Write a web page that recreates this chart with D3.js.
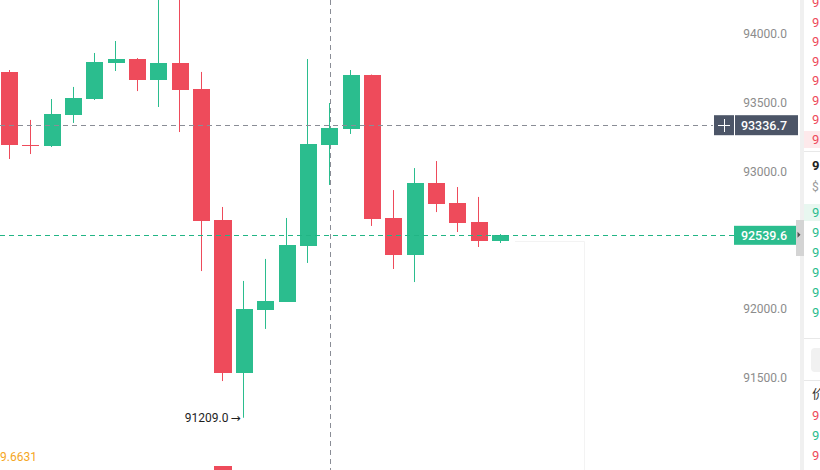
<!DOCTYPE html>
<html>
<head>
<meta charset="utf-8">
<script src="https://cdn.jsdelivr.net/npm/d3@7"></script>
<style>
  html, body { margin: 0; padding: 0; background: #ffffff; overflow: hidden; }
  svg { display: block; font-family: Roboto, "Noto Sans", Arial, sans-serif; }
</style>
</head>
<body>
<svg id="chart" width="820" height="470"></svg>
<script>
// ---- data ----
const times = ["00:00","01:00","02:00","03:00","04:00","05:00","06:00","07:00","08:00","09:00","10:00","11:00",
               "12:00","13:00","14:00","15:00","16:00","17:00","18:00","19:00","20:00","21:00","22:00","23:00"];
const opens  = [93724, 93196, 93185, 93411, 93527, 93789, 93818, 93665, 93789, 93600, 92647, 91535,
                91993, 92051, 92458, 93193, 93309, 93702, 92662, 92393, 92916, 92771, 92633, 92495];
const highs  = [93738, 93375, 93527, 93615, 93862, 93949, 93825, 94380, 94300, 93724, 92742, 92204,
                92364, 92662, 93818, 93498, 93738, 93705, 92865, 93025, 93076, 92887, 92815, 92545];
const lows   = [93091, 93127, 93178, 93353, 93520, 93731, 93585, 93469, 93287, 92276, 91476, 91209,
                91855, 92051, 92335, 92902, 93273, 92604, 92291, 92196, 92705, 92560, 92451, 92480];
const closes = [93193, 93188, 93418, 93535, 93796, 93818, 93665, 93789, 93593, 92640, 91535, 92000,
                92058, 92465, 93200, 93316, 93702, 92655, 92393, 92916, 92764, 92625, 92495, 92539.6];
const volumes = [620, 310, 420, 380, 560, 300, 410, 880, 760, 900, 1850, 840,
                 350, 520, 870, 480, 560, 820, 540, 610, 420, 360, 390, 120];
const priceTicks = [91500, 92000, 93000, 93500, 94000];
const crossPrice = 93336.7;
const lastPrice = 92539.6;
const lowLabel = "91209.0";
const indicatorValue = "9.6631";
const bookAsks = ["9","9","9","9","9","9","9","9"];
const bookBids = ["9","9","9","9","9","9"];
const bookTrades = [["9","ask"],["9","bid"],["9","ask"]];

// ---- styles ----
const GREEN = "#2bbd8e", RED = "#ee4b5b";

const svg = d3.select("#chart");

const x = d3.scaleBand().domain(times).range([-1.175, 511.225]).paddingInner(0.2).paddingOuter(0.1);
const y = d3.scaleLinear().domain([91500, 94000]).range([377.75, 34]);
const yv = d3.scaleLinear().domain([0, 2000]).range([520, 462]);

const data = times.map((t, i) => ({t, o: opens[i], h: highs[i], l: lows[i], c: closes[i], v: volumes[i]}));
const col = d => d.c >= d.o ? GREEN : RED;
const cx = d => Math.round(x(d.t) + x.bandwidth() / 2) - 0.5;

// faint future-area outline
svg.append("path")
  .attr("d", `M515,${Math.round(y(lastPrice)) + 6.5} H584.5 V470`)
  .attr("fill", "none").attr("stroke", "#f3f3f3").attr("stroke-width", 1);

// volume bars (lower pane)
svg.append("g").selectAll("rect").data(data).join("rect")
  .attr("x", d => x(d.t)).attr("width", x.bandwidth())
  .attr("y", d => yv(d.v)).attr("height", d => yv(0) - yv(d.v))
  .attr("fill", col).attr("shape-rendering", "crispEdges");

// indicator value
svg.append("text").attr("x", 0).attr("y", 461).attr("font-size", 12)
  .attr("fill", "#f5a623").text(indicatorValue);

// crosshair vertical (at candle 16)
svg.append("line")
  .attr("x1", cx(data[15]) + 1).attr("x2", cx(data[15]) + 1)
  .attr("y1", 0).attr("y2", 470)
  .attr("stroke", "#8a8d96").attr("stroke-width", 1).attr("stroke-dasharray", "5,4");

// candles
const g = svg.append("g");
g.selectAll("line.wick").data(data).join("line")
  .attr("class", "wick")
  .attr("x1", cx).attr("x2", cx)
  .attr("y1", d => y(d.h)).attr("y2", d => y(d.l))
  .attr("stroke", col).attr("stroke-width", 1);
g.selectAll("rect.body").data(data).join("rect")
  .attr("class", "body")
  .attr("x", d => x(d.t)).attr("width", x.bandwidth())
  .attr("y", d => y(Math.max(d.o, d.c)))
  .attr("height", d => Math.max(1.5, Math.abs(y(d.o) - y(d.c))))
  .attr("fill", col).attr("shape-rendering", "crispEdges");

// crosshair horizontal
svg.append("line")
  .attr("x1", 0).attr("x2", 713).attr("y1", Math.round(y(crossPrice)) + 0.5).attr("y2", Math.round(y(crossPrice)) + 0.5)
  .attr("stroke", "#8a8d96").attr("stroke-width", 1).attr("stroke-dasharray", "5,4");

// last price line
svg.append("line")
  .attr("x1", 0).attr("x2", 734).attr("y1", Math.round(y(lastPrice)) + 0.5).attr("y2", Math.round(y(lastPrice)) + 0.5)
  .attr("stroke", "#22b585").attr("stroke-width", 1).attr("stroke-dasharray", "5,4");

// price axis
const axis = d3.axisRight(y).tickValues(priceTicks).tickSize(0).tickPadding(0)
  .tickFormat(d => d3.format(".1f")(d));
const ag = svg.append("g").attr("transform", "translate(787,0)").call(axis);
ag.select(".domain").remove();
ag.selectAll("text").attr("text-anchor", "end").attr("fill", "#8c8c8c")
  .attr("font-size", 12).attr("font-family", "Roboto, Arial, sans-serif");

// min label
const lowIdx = d3.minIndex(lows);
svg.append("text").attr("x", cx(data[lowIdx]) - 15).attr("y", y(lows[lowIdx]) + 4)
  .attr("text-anchor", "end").attr("font-size", 12).attr("fill", "#1e1e1e").text(lowLabel);
svg.append("text").attr("x", cx(data[lowIdx]) - 3).attr("y", y(lows[lowIdx]) + 4.5)
  .attr("text-anchor", "end").attr("font-size", 12).attr("font-family", "DejaVu Sans").attr("fill", "#1e1e1e").text("→");

// crosshair price label
const cy = y(crossPrice);
svg.append("rect").attr("x", 714).attr("y", cy - 10).attr("width", 20).attr("height", 20).attr("fill", "#4c5567");
svg.append("path").attr("d", `M718,${Math.round(cy)+0.5} H730 M724.5,${Math.round(cy)-6} V${Math.round(cy)+7}`)
  .attr("stroke", "#ffffff").attr("stroke-width", 1);
svg.append("rect").attr("x", 735).attr("y", cy - 10).attr("width", 63).attr("height", 20).attr("fill", "#4c5567");
svg.append("text").attr("x", 787).attr("y", cy + 4.5).attr("text-anchor", "end")
  .attr("font-size", 12.5).attr("font-weight", 500).attr("fill", "#ffffff").text(d3.format(".1f")(crossPrice));

// last price label
const ly = y(lastPrice);
svg.append("rect").attr("x", 734).attr("y", ly - 9).attr("width", 62).attr("height", 19).attr("fill", GREEN);
svg.append("text").attr("x", 787).attr("y", ly + 5).attr("text-anchor", "end")
  .attr("font-size", 12.5).attr("font-weight", 500).attr("fill", "#ffffff").text(d3.format(".1f")(lastPrice));

// right side panel (order book, clipped by the window edge)
svg.append("rect").attr("x", 800).attr("y", 0).attr("width", 4).attr("height", 470).attr("fill", "#f0f0f0");
svg.append("rect").attr("x", 796).attr("y", 220).attr("width", 8).attr("height", 36).attr("fill", "#d4d4d4");
svg.append("path").attr("d", `M797.5,${ly-3} L800.5,${ly} L797.5,${ly+3} Z`).attr("fill", "#555");
svg.append("rect").attr("x", 804).attr("y", 131).attr("width", 16).attr("height", 17).attr("fill", "#fde9eb");
svg.append("rect").attr("x", 804).attr("y", 204).attr("width", 16).attr("height", 17).attr("fill", "#e8f7f0");
[151, 338, 380].forEach(yy => svg.append("line").attr("x1", 804).attr("x2", 820).attr("y1", yy + 0.5).attr("y2", yy + 0.5).attr("stroke", "#e8e8e8"));
svg.append("rect").attr("x", 811).attr("y", 348).attr("width", 20).attr("height", 24).attr("rx", 4).attr("fill", "#f1f1f1");
const book = svg.append("g").attr("font-size", 13);
bookAsks.forEach((s, i) => book.append("text").attr("x", 812).attr("y", 7 + i * 19.5).attr("fill", RED).text(s));
book.append("text").attr("x", 812).attr("y", 170).attr("fill", "#222").attr("font-weight", 700).text("9");
book.append("text").attr("x", 812).attr("y", 191).attr("fill", "#999").attr("font-size", 12).text("$");
bookBids.forEach((s, i) => book.append("text").attr("x", 812).attr("y", 217 + i * 20).attr("fill", GREEN).text(s));
book.append("text").attr("x", 812).attr("y", 398).attr("fill", "#333").attr("font-family", "Noto Sans CJK SC").text("价");
bookTrades.forEach((d, i) => book.append("text").attr("x", 812).attr("y", 420 + i * 20).attr("fill", d[1] === "ask" ? RED : GREEN).text(d[0]));
</script>
</body>
</html>
